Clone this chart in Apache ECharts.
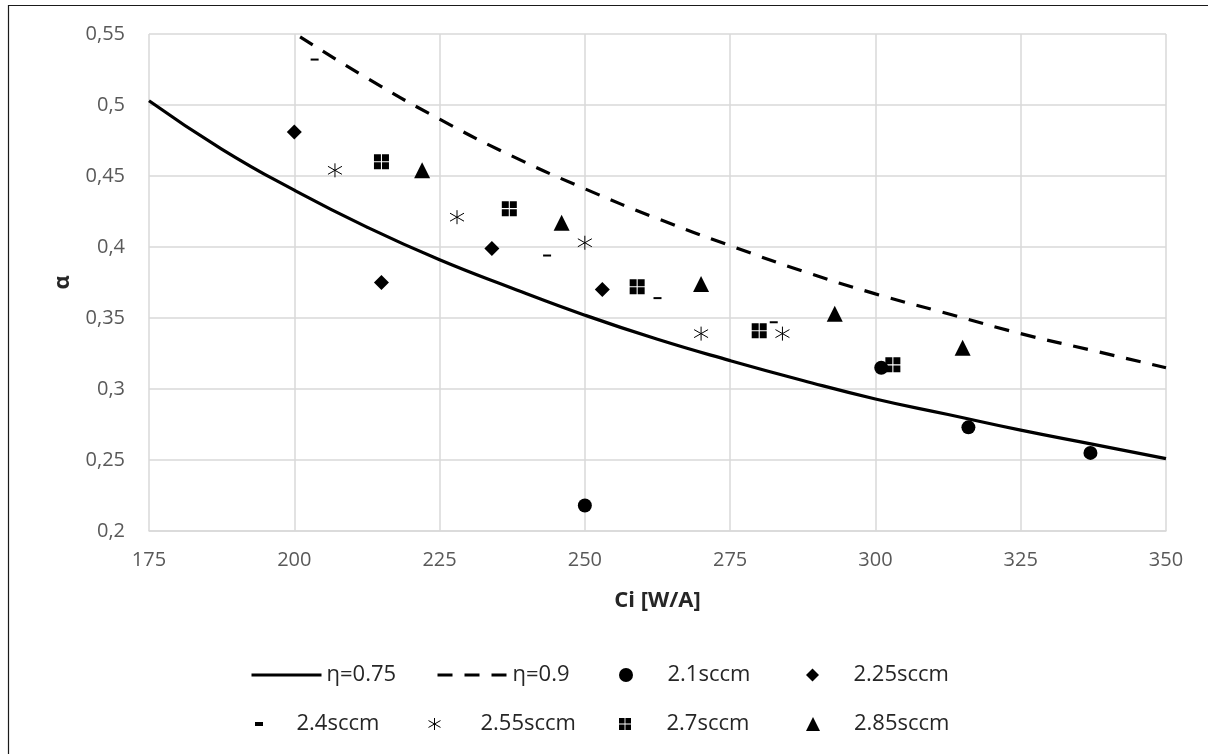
<!DOCTYPE html>
<html>
<head>
<meta charset="utf-8">
<script src="https://cdn.jsdelivr.net/npm/echarts@6/dist/echarts.min.js"></script>
<style>
  html, body { margin: 0; padding: 0; background: #fff; }
  #main { width: 1208px; height: 754px; }
</style>
</head>
<body>
<div id="main"></div>
<script>
// curves
const etaLowX = [175, 187.5, 200, 212.5, 225, 237.5, 250, 262.5, 275, 287.5, 300, 312.5, 325, 337.5, 350];
const etaLowY = [0.503, 0.469, 0.440, 0.414, 0.391, 0.371, 0.352, 0.335, 0.320, 0.306, 0.293, 0.282, 0.271, 0.261, 0.251];
const etaHighX = [201, 212.5, 225, 237.5, 250, 262.5, 275, 287.5, 300, 312.5, 325, 337.5, 350];
const etaHighY = [0.548, 0.519, 0.490, 0.464, 0.441, 0.420, 0.401, 0.383, 0.367, 0.353, 0.339, 0.327, 0.315];

// measured points, Ci [W/A] and alpha
const ci21 = [250, 301, 316, 337];
const a21 = [0.218, 0.315, 0.273, 0.255];
const ci225 = [200, 215, 234, 253];
const a225 = [0.481, 0.375, 0.399, 0.370];
const ci24 = [203.5, 243.5, 262.5, 282.5];
const a24 = [0.532, 0.394, 0.364, 0.347];
const ci255 = [207, 228, 250, 270, 284];
const a255 = [0.454, 0.421, 0.403, 0.339, 0.339];
const ci27 = [215, 237, 259, 280, 303];
const a27 = [0.460, 0.427, 0.372, 0.341, 0.317];
const ci285 = [222, 246, 270, 293, 315];
const a285 = [0.454, 0.417, 0.374, 0.353, 0.329];

const yTicks = [0.2, 0.25, 0.3, 0.35, 0.4, 0.45, 0.5, 0.55];

var FONT = 'Open Sans';
var zip = function (xs, ys) { return xs.map(function (x, i) { return [x, ys[i]]; }); };

var SYM = {
  diamond: 'path://M7,0L14,7L7,14L0,7Z',
  dash: 'path://M0,0H8V4H0Z',
  star: 'path://M7,0V14M0,3L14,11M0,11L14,3',
  box: 'path://M0,0H6.5V6.5H0ZM7.5,0H14V6.5H7.5ZM0,7.5H6.5V14H0ZM7.5,7.5H14V14H7.5Z',
  tri: 'path://M7,0L14,14L0,14Z'
};

var myChart = echarts.init(document.getElementById('main'));

function scatter(name, xs, ys, symbol, size, extra) {
  var s = {
    name: name,
    type: 'scatter',
    data: zip(xs, ys),
    symbol: symbol,
    symbolSize: size,
    symbolKeepAspect: true,
    itemStyle: { color: '#000', opacity: 1 },
    z: 3
  };
  if (extra) s.itemStyle = Object.assign(s.itemStyle, extra);
  return s;
}

// one legend per entry so the columns line up like the original
var legendSpec = [
  { name: 'η=0.75', left: 250, y: 674, w: 70, h: 14, line: true },
  { name: 'η=0.9', left: 436, y: 674, w: 70, h: 14, line: true },
  { name: '2.1sccm', left: 619, y: 674, w: 73, h: 14 },
  { name: '2.25sccm', left: 806, y: 674, w: 72, h: 13 },
  { name: '2.4sccm', left: 255, y: 723, w: 65, h: 4 },
  { name: '2.55sccm', left: 428, y: 723, w: 82, h: 12 },
  { name: '2.7sccm', left: 619, y: 723, w: 73, h: 12 },
  { name: '2.85sccm', left: 806, y: 723, w: 72, h: 14 }
];

var legends = legendSpec.map(function (l) {
  var lg = {
    data: [l.name],
    left: l.left,
    top: l.y - 10,
    padding: 0,
    itemWidth: l.w,
    itemHeight: l.h,
    selectedMode: false,
    textStyle: { fontFamily: FONT, fontSize: 22, color: '#262626' }
  };
  if (l.line) {
    lg.lineStyle = { width: 3 };
    lg.itemStyle = { opacity: 0, color: 'rgba(0,0,0,0)', borderWidth: 0 };
  }
  if (l.name === '2.55sccm') lg.itemStyle = { borderWidth: 1, borderColor: '#000' };
  return lg;
});

const option = {
  animation: false,
  backgroundColor: '#fff',
  textStyle: { fontFamily: FONT },
  graphic: [
    {
      type: 'rect',
      shape: { x: 8.5, y: 5.5, width: 1400, height: 900 },
      style: { fill: 'none', stroke: '#1a1a1a', lineWidth: 1.2 },
      silent: true
    }
  ],
  grid: { left: 149, right: 42, top: 34, bottom: 223 },
  legend: legends,
  xAxis: {
    type: 'value',
    min: 175,
    max: 350,
    interval: 25,
    name: 'Ci [W/A]',
    nameLocation: 'middle',
    nameGap: 59,
    nameTextStyle: { fontFamily: FONT, fontSize: 22, fontWeight: 'bold', color: '#262626' },
    axisLine: { show: true, lineStyle: { color: '#d9d9d9', width: 1.5 } },
    axisTick: { show: false },
    axisLabel: { margin: 19, fontFamily: FONT, fontSize: 20, color: '#595959' },
    splitLine: { show: true, lineStyle: { color: '#d9d9d9', width: 1.5 } }
  },
  yAxis: {
    type: 'value',
    min: 0.2,
    max: 0.55,
    interval: 0.05,
    name: 'α',
    nameLocation: 'middle',
    nameGap: 75,
    nameTextStyle: { fontFamily: FONT, fontSize: 22, fontWeight: 'bold', color: '#262626' },
    axisLine: { show: false },
    axisTick: { show: false },
    axisLabel: {
      margin: 24, fontFamily: FONT, fontSize: 20, color: '#595959',
      formatter: function (v) {
        var t = yTicks.find(function (k) { return Math.abs(k - v) < 1e-6; });
        return String(t !== undefined ? t : +v.toFixed(2)).replace('.', ',');
      }
    },
    splitLine: { show: true, lineStyle: { color: '#d9d9d9', width: 1.5 } }
  },
  series: [
    {
      name: 'η=0.75',
      type: 'line',
      data: zip(etaLowX, etaLowY),
      smooth: true,
      symbol: 'none',
      showSymbol: false,
      lineStyle: { color: '#000', width: 3.2, type: 'solid' },
      itemStyle: { color: '#000' },
      z: 2
    },
    {
      name: 'η=0.9',
      type: 'line',
      data: zip(etaHighX, etaHighY),
      smooth: true,
      symbol: 'none',
      showSymbol: false,
      lineStyle: { color: '#000', width: 3.2, type: [15, 12] },
      itemStyle: { color: '#000' },
      z: 2
    },
    scatter('2.1sccm', ci21, a21, 'circle', 14),
    scatter('2.25sccm', ci225, a225, SYM.diamond, 15),
    scatter('2.4sccm', ci24, a24, SYM.dash, [8, 4]),
    scatter('2.55sccm', ci255, a255, SYM.star, 14, { borderColor: '#000', borderWidth: 1 }),
    scatter('2.7sccm', ci27, a27, SYM.box, 15),
    scatter('2.85sccm', ci285, a285, SYM.tri, 16)
  ]
};

myChart.setOption(option);
</script>
</body>
</html>
